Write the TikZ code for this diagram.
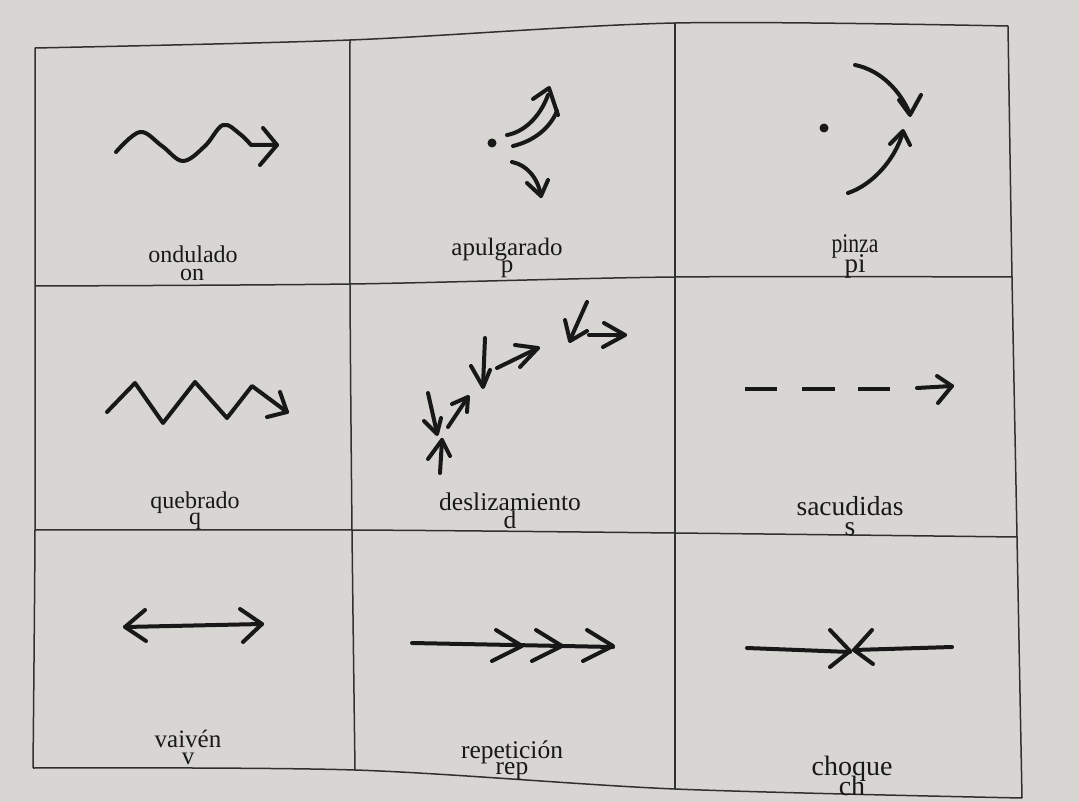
\documentclass[tikz,border=0pt]{standalone}
\usepackage{fontspec}
\setmainfont{Liberation Serif}
\usetikzlibrary{arrows.meta}
\definecolor{paper}{RGB}{216,214,210}
\definecolor{ink}{RGB}{24,24,24}
\definecolor{rulec}{RGB}{48,48,48}

\tikzset{
  sym/.style={ink, line width=4pt, line cap=round, line join=round},
  gridline/.style={rulec, line width=1.5pt},
  lab/.style={anchor=base, inner sep=0pt, text=ink, font=\fontsize{#1}{#1}\selectfont},
  lab/.default=24,
}

\begin{document}
\begin{tikzpicture}[x=1pt,y=-1pt]
			% page
			\fill[paper] (0,0) rectangle (1079,802);
			\useasboundingbox (0,0) rectangle (1079,802);
			% table rules (the photographed page is slightly warped)
			\draw[gridline] plot[smooth] coordinates {(35,48) (350,40) (675,23) (1008,26)};
			\draw[gridline] plot[smooth] coordinates {(35,286) (350,284) (675,277) (1012,277)};
			\draw[gridline] plot[smooth] coordinates {(35,530) (352,530) (675,533) (1017,537)};
			\draw[gridline] plot[smooth] coordinates {(33,768) (355,770) (675,789) (1022,798)};
			\draw[gridline] plot[smooth] coordinates {(35,48) (35,286) (35,530) (33,768)};
			\draw[gridline] plot[smooth] coordinates {(350,40) (350,284) (352,530) (355,770)};
			\draw[gridline] plot[smooth] coordinates {(675,23) (675,277) (675,533) (675,789)};
			\draw[gridline] plot[smooth] coordinates {(1008,26) (1012,277) (1017,537) (1022,798)};
			% ondulado
			\draw[sym] plot[smooth, tension=0.6] coordinates {(116,152) (140,132) (162,146) (183,161) (205,146) (223,125) (240,134) (251,145)} -- (277,145);
			\draw[sym] (263,128) -- (277,145) -- (260,165);
			\node[lab=24] (ondname) at (193,263) {ondulado};
			\node[lab=24] (ondcode) at (192,281) {on};
			% apulgarado
			\fill[ink] (492,143) circle (4.5pt);
			\draw[sym] (507,135) .. controls (524,132) and (540,117) .. (548,95);
			\draw[sym] (513,146) .. controls (534,141) and (550,128) .. (557,111);
			\draw[sym] (533,99) -- (549,88) -- (558,115);
			\draw[sym] (512,162) .. controls (527,165) and (538,178) .. (541,196);
			\draw[sym] (527,183) -- (541,196) -- (548,180);
			\node[lab=25] (apuname) at (507,256) {apulgarado};
			\node[lab=25] (apucode) at (507,273) {p};
			% pinza
			\fill[ink] (824,128) circle (4.5pt);
			\draw[sym] (855,65) .. controls (880,70) and (900,90) .. (910,114);
			\draw[sym] (899,100) -- (910,115) -- (921,95);
			\draw[sym] (848,193) .. controls (872,185) and (895,160) .. (903,132);
			\draw[sym] (890,144) -- (903,131) -- (910,145);
			\node[lab=27, xscale=0.8] (pinname) at (855,253) {pinza};
			\node[lab=27] (pincode) at (855,273) {pi};
			% quebrado
			\draw[sym] (107,412) -- (135,383) -- (163,423) -- (195,382) -- (227,418) -- (252,386) -- (287,412);
			\draw[sym] (267,417) -- (287,412) -- (280,392);
			\node[lab=24] (quename) at (195,508) {quebrado};
			\node[lab=24] (quecode) at (195,524) {q};
			% deslizamiento
			\draw[sym] (428,393) -- (437,433);
			\draw[sym] (424,421) -- (437,434) -- (441,418);
			\draw[sym] (448,427) -- (468,397);
			\draw[sym] (452,404) -- (468,397) -- (467,412);
			\draw[sym] (440,473) -- (442,440);
			\draw[sym] (428,459) -- (442,440) -- (450,456);
			\draw[sym] (485,338) -- (483,386);
			\draw[sym] (471,366) -- (483,387) -- (490,370);
			\draw[sym] (497,368) -- (538,348);
			\draw[sym] (515,345) -- (538,348) -- (520,367);
			\draw[sym] (587,302) -- (570,340);
			\draw[sym] (565,320) -- (570,341) -- (587,331);
			\draw[sym] (589,335) -- (625,335);
			\draw[sym] (604,323) -- (625,335) -- (603,347);
			\node[lab=25.5] (desname) at (510,510) {deslizamiento};
			\node[lab=25.5] (descode) at (510,528) {d};
			% sacudidas
			\foreach \xa/\xb in {745/777, 802/835, 858/890}
				\draw[sym, line cap=butt, line width=4.5pt] (\xa,389) -- (\xb,389);
			\draw[sym] (917,388) -- (952,386);
			\draw[sym] (937,376) -- (952,386) -- (938,403);
			\node[lab=27.5] (sacname) at (850,515) {sacudidas};
			\node[lab=27.5] (saccode) at (850,535) {s};
			% vaiven
			\draw[sym] (125,627) -- (262,624);
			\draw[sym] (145,610) -- (125,627) -- (146,641);
			\draw[sym] (240,609) -- (262,624) -- (243,642);
			\node[lab=25] (vainame) at (188,747) {vaivén};
			\node[lab=25] (vaicode) at (188,764) {v};
			% repeticion
			\draw[sym] (412,643) -- (613,647);
			\foreach \tx in {522,562,613}
				\draw[sym] (\tx-26,630) -- (\tx,646) -- (\tx-30,661);
			\node[lab=25.5] (repname) at (512,758) {repetición};
			\node[lab=25.5] (repcode) at (512,774) {rep};
			% choque
			\draw[sym] (747,648) -- (850,652);
			\draw[sym] (952,647) -- (854,650);
			\draw[sym] (830,630) -- (850,651) -- (830,667);
			\draw[sym] (872,630) -- (854,650) -- (873,664);
			\node[lab=28] (choname) at (852,775) {choque};
			\node[lab=28] (chocode) at (852,795) {ch};
		\end{tikzpicture}
\end{document}
